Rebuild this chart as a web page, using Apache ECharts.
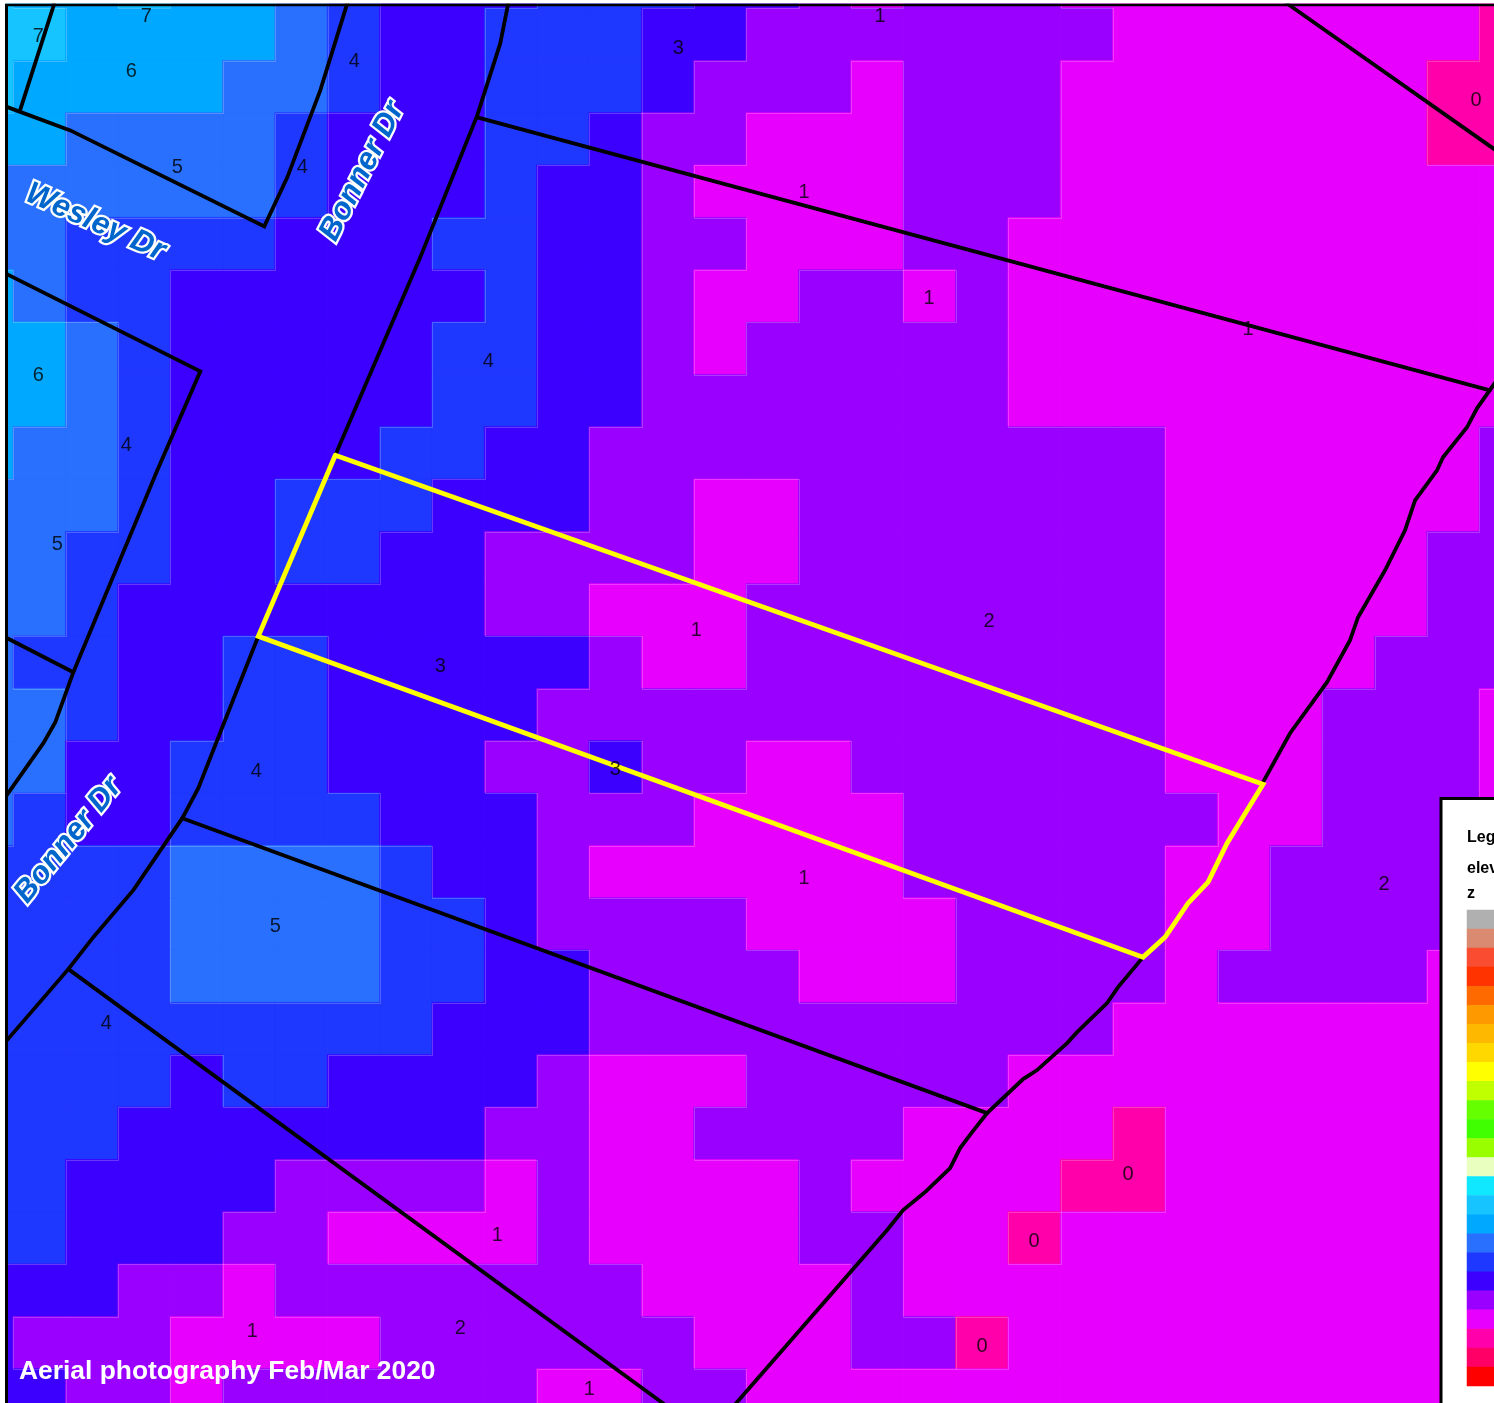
<!DOCTYPE html>
<html><head><meta charset="utf-8">
<style>html,body{margin:0;padding:0;background:#fff;overflow:hidden;width:1494px;height:1403px;position:relative}#c{position:absolute;left:-39px;top:-44px;width:1600px;height:1480px}</style>
<script src="https://cdn.jsdelivr.net/npm/echarts@6/dist/echarts.min.js"></script>
</head><body><div id="c"></div>
<script>
// elevation class of every raster cell, rows top to bottom
const elevationGrid = [
[7,6,6,7,6,6,5,4,3,3,3,4,4,4,3,3,2,1,2,2,2,1,1,1,1,1,1,1,1,0],
[7,7,6,6,6,6,5,4,3,3,4,4,4,3,3,2,2,2,2,2,2,2,1,1,1,1,1,1,1,0],
[7,6,6,6,6,5,5,4,3,3,4,4,4,3,2,2,2,1,2,2,2,1,1,1,1,1,1,1,0,0],
[6,6,5,5,5,5,4,3,3,3,4,4,3,2,2,1,1,1,2,2,2,1,1,1,1,1,1,1,0,0],
[5,5,5,5,5,5,4,3,3,3,4,3,3,2,1,1,1,1,2,2,2,1,1,1,1,1,1,1,1,1],
[5,5,4,4,4,4,3,3,3,4,4,3,3,2,2,1,1,1,2,2,1,1,1,1,1,1,1,1,1,1],
[6,5,4,4,3,3,3,3,3,3,4,3,3,2,1,1,2,2,1,2,1,1,1,1,1,1,1,1,1,1],
[6,6,5,4,3,3,3,3,3,4,4,3,3,2,1,2,2,2,2,2,1,1,1,1,1,1,1,1,1,1],
[6,6,5,4,3,3,3,3,3,4,4,3,3,2,2,2,2,2,2,2,1,1,1,1,1,1,1,1,1,1],
[6,5,5,4,3,3,3,3,4,4,3,3,2,2,2,2,2,2,2,2,2,2,2,1,1,1,1,1,1,2],
[5,5,5,4,3,3,4,4,4,3,3,3,2,2,1,1,2,2,2,2,2,2,2,1,1,1,1,1,1,2],
[5,5,4,4,3,3,4,4,3,3,2,2,2,2,1,1,2,2,2,2,2,2,2,1,1,1,1,1,2,2],
[5,5,4,3,3,3,3,3,3,3,2,2,1,1,1,2,2,2,2,2,2,2,2,1,1,1,1,1,2,2],
[5,4,4,3,3,4,4,3,3,3,3,3,2,1,1,2,2,2,2,2,2,2,2,1,1,1,1,2,2,2],
[5,5,4,3,3,4,4,3,3,3,3,2,2,2,2,2,2,2,2,2,2,2,2,1,1,1,2,2,2,1],
[5,5,3,3,4,4,4,3,3,3,2,2,3,2,2,1,1,2,2,2,2,2,2,1,1,1,2,2,2,1],
[5,4,3,3,4,4,4,4,3,3,3,2,2,2,1,1,1,1,2,2,2,2,2,2,1,1,2,2,2,1],
[4,4,4,4,5,5,5,5,4,3,3,2,1,1,1,1,1,1,2,2,2,2,2,1,1,2,2,2,2,1],
[4,4,4,4,5,5,5,5,4,4,3,2,2,2,2,1,1,1,1,2,2,2,2,1,1,2,2,2,2,1],
[4,4,4,4,5,5,5,5,4,4,3,3,2,2,2,2,1,1,1,2,2,2,2,1,2,2,2,2,1,1],
[4,4,4,4,4,4,4,4,4,3,3,3,2,2,2,2,2,2,2,2,2,2,1,1,1,1,1,1,1,1],
[4,4,4,4,3,4,4,3,3,3,3,2,1,1,1,2,2,2,2,2,1,1,1,1,1,1,1,1,1,1],
[4,4,4,3,3,3,3,3,3,3,2,2,1,1,2,2,2,2,1,1,1,1,0,1,1,1,1,1,1,1],
[4,4,3,3,3,3,2,2,2,2,1,2,1,1,1,1,2,1,1,1,1,0,0,1,1,1,1,1,1,1],
[4,4,3,3,3,2,2,1,1,1,1,2,1,1,1,1,2,2,1,1,0,1,1,1,1,1,1,1,1,1],
[3,3,3,2,2,1,2,2,2,2,2,2,2,1,1,1,1,2,1,1,1,1,1,1,1,1,1,1,1,1],
[3,2,2,2,1,1,1,1,2,2,2,2,2,2,1,1,1,2,2,0,1,1,1,1,1,1,1,1,1,1],
[3,3,2,2,1,2,2,2,2,2,2,1,1,2,2,1,1,1,1,1,1,1,1,1,1,1,1,1,1,1]
];
// legend classes top to bottom and their colours
const legendLevels = [22,21,20,19,18,17,16,15,14,13,12,11,10,9,8,7,6,5,4,3,2,1,0,-1,-2];
const legendColors = ['#b0b0b0','#d98a70','#f94c30','#ff3300','#ff6a00','#ff9900','#ffb800','#ffd800','#ffff00','#bfff00','#66ff00','#40ff00','#99ff00','#e8ffc0','#0fe8ff','#16c5ff','#00a8ff','#2970ff','#1f38ff','#3c00ff','#9900ff','#e800ff','#ff00aa','#ff0066','#ff0000'];
// parcel and road lines in map units
const parcelLines = [
 [[20,109],[54,3]],
 [[5,106],[70,130],[264,226],[287,177],[320,90],[347,3]],
 [[5,273],[200,371],[157,470],[73,672],[55,722],[43,743],[5,797]],
 [[5,637],[73,672]],
 [[508,3],[500,43],[477,115],[420,257],[335,455]],
 [[258,636],[222,727],[198,788],[182,818],[133,890],[93,937],[68,969],[5,1042]],
 [[477,117],[1490,390]],
 [[182,818],[987,1113]],
 [[68,969],[672,1410]],
 [[730,1410],[887,1230],[903,1210],[925,1192],[950,1168],[960,1148],[972,1132],[987,1113],[1023,1079],[1037,1070],[1067,1043],[1077,1032],[1107,1003],[1118,987],[1143,957]],
 [[1263,782],[1290,733],[1327,682],[1350,640],[1358,617],[1385,570],[1405,530],[1415,500],[1437,470],[1443,457],[1467,427],[1477,408],[1496,381]],
 [[1287,3],[1496,150]]
];
const highlightParcel = [[335,455],[1263,784],[1247,810],[1227,843],[1208,882],[1188,903],[1165,937],[1143,957],[258,636],[335,455]];
const contourLabels = [
 ['7',146,15],['7',38,35],['6',131,70],['4',354,60],['5',177,166],['4',302,166],['3',678,47],['1',880,15],['0',1476,99],
 ['1',804,191],['1',929,297],['1',1248,328],['4',488,360],['6',38,374],['4',126,444],['5',57,543],['2',989,620],['1',696,629],
 ['3',440,665],['3',615,768],['4',256,770],['1',804,877],['5',275,925],['2',1384,883],['4',106,1022],['0',1128,1173],
 ['0',1034,1240],['1',497,1234],['1',252,1330],['2',460,1327],['0',982,1345],['1',589,1388]
];
const roadNames = ['Wesley Dr','Bonner Dr','Bonner Dr'];
const roadAnchors = [[95,222,-24],[362,171,63],[68,840,51]];
const caption = 'Aerial photography Feb/Mar 2020';
const legendTitles = ['Legend','elevation','z'];

const nCols = elevationGrid[0].length, nRows = elevationGrid.length;
const cellW = 52.37, cellH = 52.35;
const ox = 39, oy = 44;                         // page offset of the chart canvas
const mapLeft = 13 - cellW, mapTop = 7.9 - cellH;  // map units at the grid corner
const cols = elevationGrid[0].map((_, i) => String(i)), rows = elevationGrid.map((_, i) => String(i));
const colorOf = v => legendColors[legendLevels.indexOf(v)];
const cells = [];
elevationGrid.forEach((row, r) => row.forEach((v, c) => cells.push({value: [c, r, v], itemStyle: {borderColor: colorOf(v), borderWidth: 0.7}})));
const at = (c, r) => (elevationGrid[r] && elevationGrid[r][c] !== undefined) ? elevationGrid[r][c] : null;

const chart = echarts.init(document.getElementById('c'), null, {renderer: 'canvas'});
const lineSeries = (pts, color, width, z) => ({
  type: 'line', xAxisIndex: 1, yAxisIndex: 1, data: pts, showSymbol: false, symbol: 'none', silent: true,
  lineStyle: {color, width, cap: 'round', join: 'miter'}, z, animation: false
});
chart.setOption({
  animation: false,
  backgroundColor: '#fff',
  tooltip: {show: false},
  grid: [
    {left: mapLeft + ox, top: mapTop + oy, width: cellW * nCols, height: cellH * nRows, containLabel: false},
    {left: 1467 + ox, top: 910 + oy, width: 120, height: 476, containLabel: false}
  ],
  xAxis: [
    {type: 'category', gridIndex: 0, data: cols, show: false},
    {type: 'value', gridIndex: 0, min: mapLeft, max: mapLeft + cellW * nCols, show: false, splitLine: {show: false}},
    {type: 'category', gridIndex: 1, data: ['z'], show: false}
  ],
  yAxis: [
    {type: 'category', gridIndex: 0, data: rows, inverse: true, show: false},
    {type: 'value', gridIndex: 0, min: mapTop, max: mapTop + cellH * nRows, inverse: true, show: false, splitLine: {show: false}},
    {type: 'category', gridIndex: 1, data: legendLevels.map(String), inverse: true, show: false}
  ],
  visualMap: {
    type: 'piecewise', show: false, dimension: 2, seriesIndex: [0, 1],
    pieces: legendLevels.map((v, i) => ({value: v, color: legendColors[i]}))
  },
  series: [
    {type: 'heatmap', xAxisIndex: 0, yAxisIndex: 0, data: cells, silent: true, z: 2, progressive: 0},
    {type: 'heatmap', xAxisIndex: 2, yAxisIndex: 2, data: legendLevels.map((v, i) => [0, i, v]), silent: true, z: 101, progressive: 0},
    {type: 'custom', xAxisIndex: 0, yAxisIndex: 0, data: cells.map(d => d.value), silent: true, z: 3, clip: false,
      renderItem(params, api) {
        const c = api.value(0), r = api.value(1), v = api.value(2);
        const p = api.coord([c, r]), s = api.size([1, 1]);
        const x1 = Math.round(p[0] + s[0] / 2) + 0.5, x0 = Math.round(p[0] - s[0] / 2) + 0.5, y1 = Math.round(p[1] + s[1] / 2) + 0.5, y0 = Math.round(p[1] - s[1] / 2) + 0.5;
        const kids = [];
        const style = {stroke: 'rgba(255,255,255,0.22)', lineWidth: 1, fill: null};
        if (at(c + 1, r) !== null && at(c + 1, r) !== v) kids.push({type: 'line', shape: {x1, y1: y0, x2: x1, y2: y1}, style});
        if (at(c, r + 1) !== null && at(c, r + 1) !== v) kids.push({type: 'line', shape: {x1: x0, y1, x2: x1, y2: y1}, style});
        return {type: 'group', children: kids};
      }},
    ...parcelLines.map(p => lineSeries(p, '#000', 3.8, 4)),
    lineSeries(highlightParcel, '#ffff00', 4.8, 5),
    {type: 'scatter', xAxisIndex: 1, yAxisIndex: 1, symbolSize: 0, silent: true, z: 6,
      data: contourLabels.map(d => ({value: [d[1], d[2]], name: d[0]})),
      label: {show: true, position: 'inside', offset: [0, 1], formatter: '{b}', color: '#000', fontFamily: 'Liberation Sans', fontSize: 20}},
    {type: 'custom', xAxisIndex: 1, yAxisIndex: 1, data: roadAnchors, silent: true, z: 7, clip: false,
      renderItem(params, api) {
        const p = api.coord([api.value(0), api.value(1)]);
        const text = roadNames[params.dataIndex], font = 'italic bold 31px "Liberation Sans"';
        const base = {text, font, align: 'center', verticalAlign: 'middle'};
        return {type: 'group', x: p[0], y: p[1], rotation: api.value(2) * Math.PI / 180, children: [
          {type: 'text', style: {...base, fill: '#fff', stroke: '#fff', lineWidth: 4.5, lineJoin: 'round'}},
          {type: 'text', style: {...base, fill: '#0066cc'}}
        ]};
      }}
  ],
  graphic: {elements: [{type: 'group', x: ox, y: oy, children: [
    {type: 'rect', z: 50, shape: {x: -ox, y: -oy, width: ox + 5.5, height: 1500}, style: {fill: '#fff'}},
    {type: 'rect', z: 50, shape: {x: -ox, y: -oy, width: 1600, height: oy + 3.5}, style: {fill: '#fff'}},
    {type: 'line', z: 51, shape: {x1: 6.5, y1: 4, x2: 6.5, y2: 1403}, style: {stroke: '#000', lineWidth: 3}},
    {type: 'line', z: 51, shape: {x1: 5, y1: 5, x2: 1494, y2: 5}, style: {stroke: '#000', lineWidth: 2.5}},
    {type: 'text', z: 60, x: 19, y: 1371.5, style: {text: caption, fill: '#fff', font: 'bold 26.4px "Liberation Sans"', verticalAlign: 'middle'}},
    {type: 'rect', z: 100, shape: {x: 1441, y: 798.5, width: 120, height: 640}, style: {fill: '#fff', stroke: '#000', lineWidth: 3}},
    {type: 'text', z: 102, x: 1467, y: 838, style: {text: legendTitles[0], fill: '#000', font: 'bold 16px "Liberation Sans"', verticalAlign: 'middle'}},
    {type: 'text', z: 102, x: 1467, y: 869, style: {text: legendTitles[1], fill: '#000', font: 'bold 16px "Liberation Sans"', verticalAlign: 'middle'}},
    {type: 'text', z: 102, x: 1467, y: 894, style: {text: legendTitles[2], fill: '#000', font: 'bold 16px "Liberation Sans"', verticalAlign: 'middle'}}
  ]}]}
});
</script>
</body></html>
